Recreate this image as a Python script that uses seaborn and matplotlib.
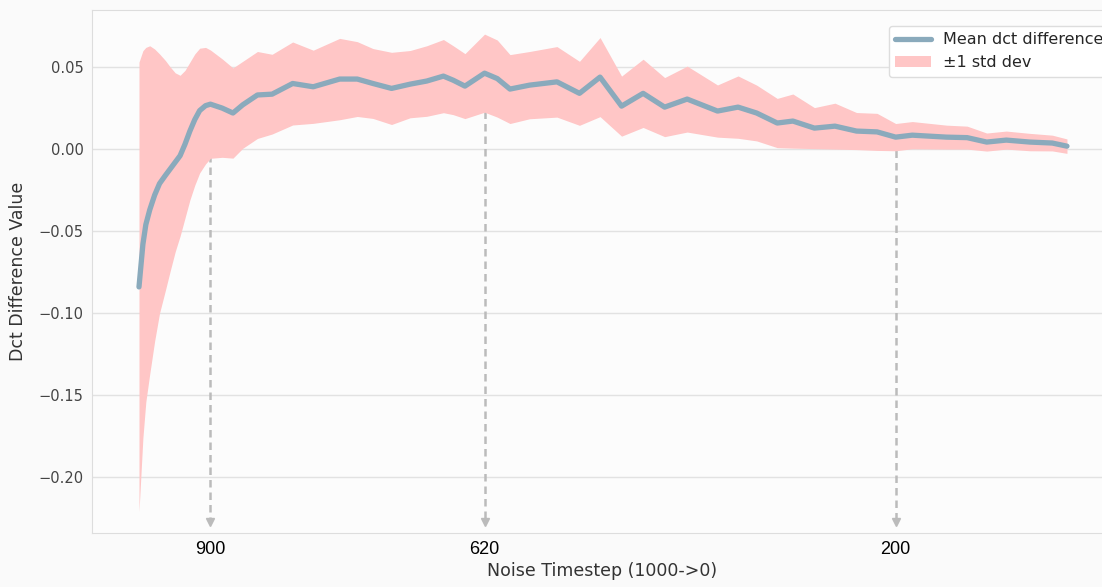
import numpy as np
import pandas as pd
import seaborn as sns
import matplotlib.pyplot as plt

# values (timestep, mean, std)
timesteps = [973, 969, 966, 962, 957, 952, 946, 941, 936, 931, 926, 921, 916, 911, 905,
             900, 888, 877, 867, 852, 837,
             816, 795, 768, 750, 734, 715, 696, 679, 662, 652, 640, 620, 607, 594,
             574, 546, 523, 502, 480, 458, 436, 413, 382, 361, 342, 321, 305, 283,
             262, 240, 219, 200, 183, 148, 127, 107, 87, 63, 40, 25]
mean_diff = [-0.084, -0.058, -0.046, -0.037, -0.028, -0.021, -0.016, -0.012, -0.008, -0.004,
             0.003, 0.011, 0.018, 0.0235, 0.0265, 0.0274, 0.025,
             0.022, 0.027, 0.033, 0.0335, 0.040, 0.038, 0.0427, 0.0427, 0.040, 0.037,
             0.0396, 0.0415, 0.0445, 0.042, 0.0384, 0.0463, 0.043, 0.0366, 0.039, 0.041,
             0.034, 0.0439, 0.0262, 0.034, 0.0256, 0.0305, 0.0232, 0.0256, 0.022, 0.0159,
             0.0171, 0.0128, 0.014, 0.011, 0.0105, 0.0073, 0.0085, 0.0073, 0.007, 0.0043,
             0.0055, 0.0043, 0.0037, 0.0018]
std_diff = [0.137, 0.118, 0.108, 0.100, 0.089, 0.079, 0.070, 0.062, 0.0545, 0.049,
            0.045, 0.042, 0.040, 0.038, 0.0355, 0.033, 0.030,
            0.0275, 0.0265, 0.0265, 0.0243, 0.0253, 0.0223, 0.0248, 0.0228, 0.0213, 0.022,
            0.0205, 0.0215, 0.0223, 0.021, 0.0198, 0.0238, 0.0235, 0.021, 0.0205, 0.0215,
            0.0195, 0.0241, 0.0183, 0.0208, 0.018, 0.0201, 0.0159, 0.019, 0.017, 0.015,
            0.0165, 0.0125, 0.014, 0.0113, 0.0113, 0.0083, 0.0083, 0.0073, 0.007, 0.0055,
            0.0055, 0.0053, 0.0048, 0.0044]
marked_steps = [900, 620, 200]
yticks = [0.05, 0.0, -0.05, -0.10, -0.15, -0.20]

df = pd.DataFrame({'t': timesteps, 'mean': mean_diff, 'std': std_diff})

sns.set_style('whitegrid')
plt.rcParams['font.family'] = ['DejaVu Sans']

fig = plt.figure(figsize=(11.02, 5.87), dpi=100, facecolor='#fafafa')
ax = fig.add_axes([92 / 1102, 54 / 587, 1020 / 1102, 523 / 587])
ax.set_facecolor('#fcfcfc')

ax.fill_between(df['t'], df['mean'] - df['std'], df['mean'] + df['std'],
                color='#ffc6c6', lw=0, label='\u00b11 std dev', zorder=2)
sns.lineplot(data=df, x='t', y='mean', ax=ax, color='#8aaabc', lw=3.8,
             label='Mean dct difference', zorder=3)
ax.lines[-1].set_solid_joinstyle('round')

ymin, ymax = -0.234, 0.0848
for t in marked_steps:
    m = df.loc[df['t'] == t, 'mean'].iloc[0]
    ax.plot([t, t], [m - 0.008, ymin + 0.008], ls=(0, (3, 2)), color='#bbbbbb',
            lw=1.8, zorder=1)
    ax.plot(t, ymin + 0.007, marker='v', color='#bbbbbb', ms=6, zorder=1)

ax.set_xlim(1021, -21)
ax.set_ylim(ymin, ymax)
ax.set_xticks(marked_steps)
ax.set_xticklabels([str(t) for t in marked_steps], fontsize=13,
                   family='Liberation Sans', color='black')
ax.set_yticks(yticks)
ax.set_yticklabels([f'{v:.2f}'.replace('-', '\u2212') for v in yticks],
                   fontsize=10.5, color='#444444')
ax.tick_params(length=0, axis='x', pad=6)
ax.tick_params(length=0, axis='y', pad=6)
ax.grid(axis='x', visible=False)
ax.grid(axis='y', color='#e2e2e2', lw=1)
for s in ['left', 'bottom', 'top']:
    ax.spines[s].set_color('#dddddd')
ax.spines['right'].set_visible(False)

ax.set_xlabel('Noise Timestep (1000->0)', fontsize=12.5, color='#333333', labelpad=3)
ax.set_ylabel('Dct Difference Value', fontsize=12.5, color='#333333', labelpad=8)

handles, labels = ax.get_legend_handles_labels()
order = [labels.index('Mean dct difference'), labels.index('\u00b11 std dev')]
ax.legend([handles[i] for i in order], [labels[i] for i in order],
          loc='upper left', bbox_to_anchor=(881 / 1102, 1 - 18 / 587),
          bbox_transform=fig.transFigure, fontsize=11.5, frameon=True,
          facecolor='white', edgecolor='#dddddd', framealpha=1, handlelength=2.2)

fig.savefig('out.png', dpi=100, facecolor=fig.get_facecolor())
